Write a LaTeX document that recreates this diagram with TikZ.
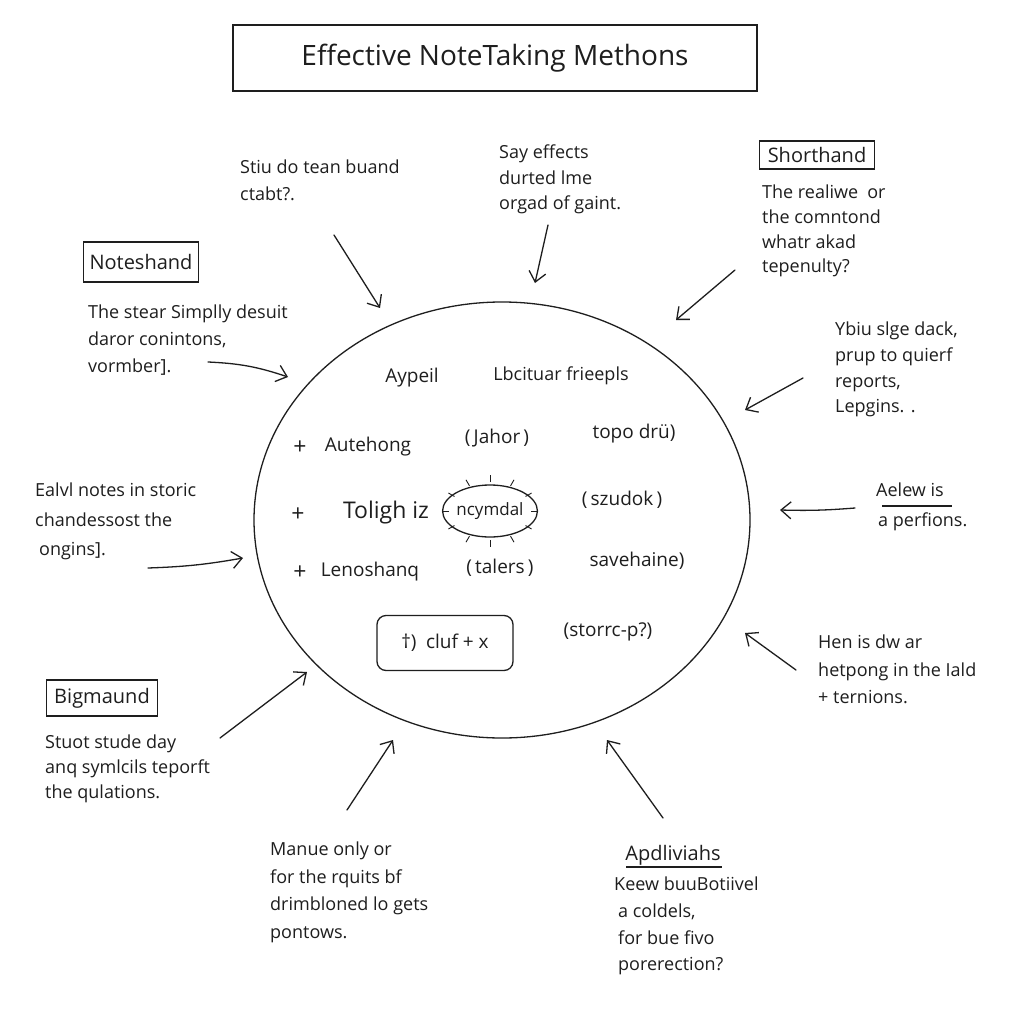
\documentclass[tikz,border=0pt]{standalone}
\usepackage{fontspec}
\setmainfont{Open Sans}
\usetikzlibrary{arrows.meta,shapes.geometric}
\definecolor{inkc}{HTML}{1E1E1E}
\begin{document}
\begin{tikzpicture}[x=1pt,y=-1pt,
  ink/.style={line width=1.3pt, draw=inkc},
  arr/.style={ink, line cap=round, -{Straight Barb[length=10pt,width=17pt,line width=1.3pt]}},
  txt/.style={text=inkc, align=left, anchor=north west, inner sep=0pt},
  inner/.style={text=inkc, font=\fontsize{19}{20}\selectfont, inner sep=0pt},
  plus/.style={text=inkc, font=\fontsize{23}{24}\selectfont, inner sep=0pt},
  lbox/.style={ink, text=inkc, font=\fontsize{20}{22}\selectfont, inner sep=0pt, rectangle},
  ray/.style={draw=inkc, line width=0.9pt}
]
\useasboundingbox (0,0) rectangle (1024,1024);
\fill[white] (0,0) rectangle (1024,1024);

% title
\node[lbox, minimum width=524pt, minimum height=66pt, font=\fontsize{28}{30}\selectfont] (title) at (495,58) {Effective NoteTaking Methons};

% central circle
\node[ink, ellipse, minimum width=496pt, minimum height=436pt] (hub) at (502,520) {};

% inside the circle
\node[inner] (i1) at (412,378) {Aypeil};
\node[inner, font=\fontsize{18}{20}\selectfont] (i2) at (561,376) {Lbcituar frieepls};
\node[plus] (p1) at (300,448) {+};
\node[inner] (i3) at (368,447) {Autehong};
\node[inner] (i4) at (497,438) {(\,Jahor\,)};
\node[inner] (i5) at (634,434) {topo drü)};
\node[plus] (p2) at (298,515) {+};
\node[inner, font=\fontsize{23}{24}\selectfont] (i6) at (386,513) {Toligh iz};
\node[ink, ellipse, minimum width=76pt, minimum height=52pt, inner sep=0pt, text=inkc, font=\fontsize{17}{18}\selectfont] (sun) at (490,511) {ncymdal};
\foreach \a in {0,30,...,330}
  \draw[ray] ([shift={(\a:41pt and 29pt)}]sun.center) -- ([shift={(\a:48pt and 36pt)}]sun.center);
\node[inner] (i7) at (622,500) {(\,szudok\,)};
\node[plus] (p3) at (300,573) {+};
\node[inner] (i8) at (370,572) {Lenoshanq};
\node[inner] (i9) at (500,568) {(\,talers\,)};
\node[inner] (i10) at (637,561) {savehaine)};
\node[ink, rounded corners=9pt, minimum width=136pt, minimum height=55pt, inner sep=0pt, text=inkc, font=\fontsize{19}{20}\selectfont] (cbox) at (445,643) {\dag)\enspace cluf + x};
\node[inner] (i11) at (608,632) {(storrc-p?)};

% label boxes
\node[lbox, minimum width=115pt, minimum height=28pt] (short) at (817,155) {Shorthand};
\node[lbox, minimum width=115pt, minimum height=40pt] (notes) at (141,262) {Noteshand};
\node[lbox, minimum width=111pt, minimum height=36pt] (bigm) at (102,698) {Bigmaund};

% outside texts
\node[txt, font=\fontsize{18}{27}\selectfont] (t1) at (240,160) {Stiu do tean buand\\ctabt?.};
\node[txt, font=\fontsize{18}{25.5}\selectfont] (t2) at (499,145) {Say effects\\durted lme\\orgad of gaint.};
\node[txt, font=\fontsize{18}{24.7}\selectfont] (t3) at (762,185) {The realiwe\enspace or\\the comntond\\whatr akad\\tepenulty?};
\node[txt, font=\fontsize{18}{27}\selectfont] (t4) at (88,305) {The stear Simplly desuit\\daror conintons,\\vormber].};
\node[txt, font=\fontsize{18}{25.7}\selectfont] (t5) at (835,322) {Ybiu slge dack,\\prup to quierf\\reports,\\Lepgins. .};
\node[txt, font=\fontsize{18}{30}\selectfont] (t6) at (876,483) {Aelew is\\\hspace*{2pt}a perfions.};
\node[txt, font=\fontsize{18}{29.5}\selectfont] (t7) at (35,483) {Ealvl notes in storic\\chandessost the\\\hspace*{4pt}ongins].};
\node[txt, font=\fontsize{18}{25}\selectfont] (t8) at (45,735) {Stuot stude day\\anq symlcils teporft\\the qulations.};
\node[txt, font=\fontsize{18}{27.5}\selectfont] (t9) at (818,635) {Hen is dw ar\\hetpong in the Iald\\+ ternions.};
\node[txt, font=\fontsize{18}{27.5}\selectfont] (t10) at (270,842) {Manue only or\\for the rquits bf\\drimbloned lo gets\\pontows.};
\node[inner, font=\fontsize{20}{22}\selectfont] (t11) at (673,855) {Apdliviahs};
\node[txt, font=\fontsize{18}{26.7}\selectfont] (t12) at (614,877) {Keew buuBotiivel\\\hspace*{4pt}a coldels,\\\hspace*{4pt}for bue fivo\\\hspace*{4pt}porerection?};

% underlines
\coordinate (u1a) at (882,506); \coordinate (u1b) at (952,506);
\draw[ink] (u1a) -- (u1b);
\coordinate (u2a) at (626,867); \coordinate (u2b) at (722,867);
\draw[ink] (u2a) -- (u2b);

% arrows
\coordinate (a1s) at (334,235); \coordinate (a1e) at (380,308);
\coordinate (a2s) at (548,225); \coordinate (a2e) at (535,283);
\coordinate (a3s) at (735,270); \coordinate (a3e) at (676,320);
\coordinate (a4s) at (208,362); \coordinate (a4e) at (288,377);
\coordinate (a5s) at (803,378); \coordinate (a5e) at (745,410);
\coordinate (a6s) at (855,508); \coordinate (a6e) at (780,510);
\coordinate (a7s) at (148,568); \coordinate (a7e) at (243,558);
\coordinate (a8s) at (220,738); \coordinate (a8e) at (307,672);
\coordinate (a9s) at (796,670); \coordinate (a9e) at (745,633);
\coordinate (a10s) at (347,810); \coordinate (a10e) at (393,740);
\coordinate (a11s) at (663,818); \coordinate (a11e) at (607,740);

\draw[arr] (a1s) -- (a1e);
\draw[arr] (a2s) -- (a2e);
\draw[arr] (a3s) -- (a3e);
\draw[arr] (a4s) to[bend left=8] (a4e);
\draw[arr] (a5s) -- (a5e);
\draw[arr] (a6s) to[bend left=3] (a6e);
\draw[arr] (a7s) to[bend right=4] (a7e);
\draw[arr] (a8s) -- (a8e);
\draw[arr] (a9s) -- (a9e);
\draw[arr] (a10s) -- (a10e);
\draw[arr] (a11s) -- (a11e);
\end{tikzpicture}
\end{document}
